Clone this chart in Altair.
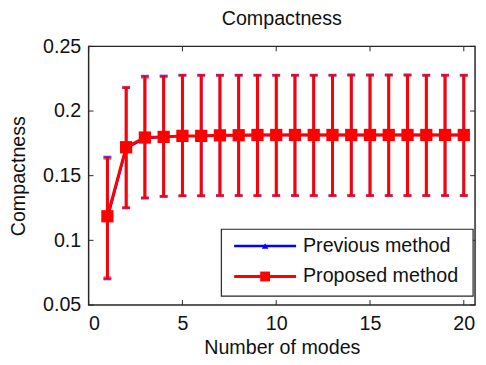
import altair as alt
import pandas as pd

# ---------------- data ----------------
modes = list(range(1, 21))

prop_mean = [0.1186, 0.1720, 0.1795, 0.1800, 0.1808, 0.1808, 0.1812, 0.1813, 0.1815, 0.1815,
             0.1815, 0.1815, 0.1815, 0.1815, 0.1815, 0.1815, 0.1815, 0.1815, 0.1815, 0.1815]
prop_low = [0.0710, 0.1253, 0.1329, 0.1340, 0.1346, 0.1346, 0.1346, 0.1346, 0.1346, 0.1346,
            0.1346, 0.1346, 0.1346, 0.1346, 0.1346, 0.1346, 0.1346, 0.1346, 0.1346, 0.1346]
prop_high = [0.1635, 0.2183, 0.2262, 0.2266, 0.2277, 0.2277, 0.2277, 0.2277, 0.2277, 0.2277,
             0.2277, 0.2277, 0.2277, 0.2277, 0.2277, 0.2277, 0.2277, 0.2277, 0.2277, 0.2277]

prev_mean = [0.1170, 0.1712, 0.1790, 0.1800, 0.1806, 0.1806, 0.1812, 0.1813, 0.1815, 0.1815,
             0.1815, 0.1815, 0.1815, 0.1815, 0.1815, 0.1815, 0.1815, 0.1815, 0.1815, 0.1815]
prev_low = [0.0700, 0.1250, 0.1326, 0.1340, 0.1343, 0.1343, 0.1346, 0.1346, 0.1346, 0.1346,
            0.1346, 0.1346, 0.1346, 0.1346, 0.1346, 0.1346, 0.1346, 0.1346, 0.1346, 0.1346]
prev_high = [0.1645, 0.2180, 0.2271, 0.2272, 0.2277, 0.2277, 0.2277, 0.2277, 0.2277, 0.2277,
             0.2277, 0.2277, 0.2277, 0.2280, 0.2280, 0.2280, 0.2280, 0.2277, 0.2277, 0.2277]

x_ticks = [0, 5, 10, 15, 20]
y_ticks = [0.05, 0.1, 0.15, 0.2, 0.25]
series_labels = ["Previous method", "Proposed method"]
series_colors = ["#0000FF", "#FF0000"]

title_text = "Compactness"
x_title = "Number of modes"
y_title = "Compactness"

# ---------------- layout / style ----------------
W, H = 393, 263
FONT = "Liberation Sans"
FS = 20
TXT = "#111111"
AX = "#262626"

xs = alt.Scale(domain=[0, 20.6], nice=False, zero=False)
ys = alt.Scale(domain=[0.05, 0.25], nice=False, zero=False)
xaxis = alt.Axis(values=x_ticks, title=x_title, labelPadding=9, titlePadding=4, format="~g")
yaxis = alt.Axis(values=y_ticks, title=y_title, labelPadding=8, titlePadding=14, format="~g")


def X(field):
    return alt.X(f"{field}:Q", scale=xs, axis=xaxis)


def Y(field):
    return alt.Y(f"{field}:Q", scale=ys, axis=yaxis)


prop = pd.DataFrame({"x": modes, "mean": prop_mean, "low": prop_low, "high": prop_high})
prev = pd.DataFrame({"x": modes, "mean": prev_mean, "low": prev_low, "high": prev_high})
xt = pd.DataFrame({"x": x_ticks})
yt = pd.DataFrame({"y": y_ticks})

layers = []
# inward ticks (MATLAB style) on all four sides
layers.append(alt.Chart(yt).mark_rule(color=AX, strokeWidth=1).encode(y=Y("y"), x=alt.value(0), x2=alt.value(5)))
layers.append(alt.Chart(yt).mark_rule(color=AX, strokeWidth=1).encode(y=Y("y"), x=alt.value(W - 5), x2=alt.value(W)))
layers.append(alt.Chart(xt).mark_rule(color=AX, strokeWidth=1).encode(x=X("x"), y=alt.value(H - 5), y2=alt.value(H)))
layers.append(alt.Chart(xt).mark_rule(color=AX, strokeWidth=1).encode(x=X("x"), y=alt.value(0), y2=alt.value(5)))


def series(df, color, shape, msize, lw):
    out = []
    out.append(alt.Chart(df).mark_rule(color=color, strokeWidth=lw).encode(x=X("x"), y=Y("low"), y2="high:Q"))
    out.append(alt.Chart(df).mark_tick(color=color, orient="horizontal", size=8, thickness=lw).encode(x=X("x"), y=Y("low")))
    out.append(alt.Chart(df).mark_tick(color=color, orient="horizontal", size=8, thickness=lw).encode(x=X("x"), y=Y("high")))
    out.append(alt.Chart(df).mark_line(color=color, strokeWidth=lw).encode(x=X("x"), y=Y("mean")))
    out.append(alt.Chart(df).mark_point(color=color, shape=shape, filled=True, opacity=1, size=msize).encode(x=X("x"), y=Y("mean")))
    return out


layers += series(prev, series_colors[0], "triangle-up", 60, 2.5)
layers += series(prop, series_colors[1], "square", 155, 3)

# ---------------- legend (drawn by hand, MATLAB style) ----------------
LX0, LX1, LY0, LY1 = 135, 391, 186, 254
row_y = [203, 234]
legend_df = pd.DataFrame({"label": series_labels})
layers.append(
    alt.Chart(legend_df.head(1)).mark_rect(fill="white", stroke=AX, strokeWidth=1.2).encode(
        x=alt.value(LX0), x2=alt.value(LX1), y=alt.value(LY0), y2=alt.value(LY1))
)
shapes = ["triangle-up", "square"]
msizes = [45, 100]
for i, lab in enumerate(series_labels):
    d = pd.DataFrame({"label": [lab]})
    layers.append(alt.Chart(d).mark_rule(color=series_colors[i], strokeWidth=2.5 if i == 0 else 3).encode(
        x=alt.value(148), x2=alt.value(211), y=alt.value(row_y[i])))
    layers.append(alt.Chart(d).mark_point(color=series_colors[i], shape=shapes[i], filled=True, opacity=1,
                                          size=msizes[i]).encode(x=alt.value(179.5), y=alt.value(row_y[i])))
    layers.append(alt.Chart(d).mark_text(align="left", baseline="middle", font=FONT, fontSize=FS, color=TXT).encode(
        x=alt.value(218), y=alt.value(row_y[i]), text="label:N"))

chart = alt.layer(*layers).properties(
    width=W,
    height=H,
    autosize=alt.AutoSizeParams(type="none"),
    padding={"left": 82, "top": 36, "right": 3, "bottom": 58},
    title=alt.Title(title_text, font=FONT, fontSize=FS, fontWeight="normal", color=TXT, offset=8, anchor="middle"),
).configure_view(
    stroke=AX, strokeWidth=1.5
).configure_axis(
    labelFont=FONT, labelFontSize=FS, labelColor=TXT,
    titleFont=FONT, titleFontSize=FS, titleFontWeight="normal", titleColor=TXT,
    grid=False, domain=False, ticks=False,
)

chart.save("out.html", embed_options={"renderer": "svg", "actions": False})
